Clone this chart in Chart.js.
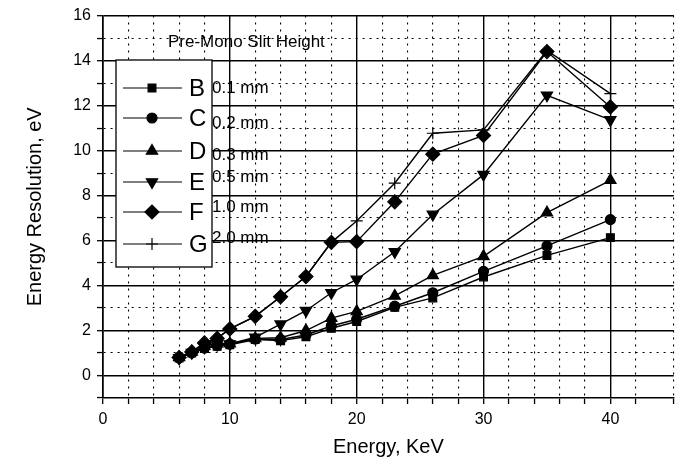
<!DOCTYPE html>
<html>
<head>
<meta charset="utf-8">
<script src="https://cdn.jsdelivr.net/npm/chart.js@4"></script>
<style>
  html, body { margin: 0; padding: 0; background: #fff; }
  #wrap { width: 682px; height: 465px; }
</style>
</head>
<body>
<div id="wrap"><canvas id="resChart" width="682" height="465"></canvas></div>
<script>
// energies (KeV)
let energy = [6, 7, 8, 9, 10, 12, 14, 16, 18, 20, 23, 26, 30, 35, 40];

// energy resolution (eV) per slit setting
let seriesB = [0.78, 1.0, 1.2, 1.3, 1.37, 1.6, 1.55, 1.72, 2.1, 2.4, 3.03, 3.45, 4.38, 5.34, 6.13];
let seriesC = [0.8, 1.02, 1.22, 1.33, 1.4, 1.62, 1.6, 1.8, 2.2, 2.5, 3.08, 3.68, 4.63, 5.76, 6.93];
let seriesD = [0.8, 1.05, 1.3, 1.42, 1.42, 1.65, 1.68, 2.0, 2.55, 2.85, 3.54, 4.45, 5.3, 7.24, 8.68];
let seriesE = [0.78, 1.02, 1.25, 1.38, 1.4, 1.7, 2.28, 2.88, 3.68, 4.27, 5.5, 7.16, 8.93, 12.46, 11.36];
let seriesF = [0.8, 1.05, 1.45, 1.65, 2.07, 2.63, 3.5, 4.4, 5.92, 5.95, 7.72, 9.84, 10.67, 14.4, 11.94];
let seriesG = [0.8, 1.05, 1.45, 1.65, 2.07, 2.63, 3.5, 4.4, 5.92, 6.87, 8.55, 10.77, 10.92, 14.45, 12.53];

let legendLetters = ["B", "C", "D", "E", "F", "G"];
let slitHeights = ["0.1 mm", "0.2 mm", "0.3 mm", "0.5 mm", "1.0 mm", "2.0 mm"];
let legendTitle = "Pre-Mono Slit Height";

let allSeries = [seriesB, seriesC, seriesD, seriesE, seriesF, seriesG];
let markers = [
  { pointStyle: "rect", rotation: 0, radius: 5.5 },
  { pointStyle: "circle", rotation: 0, radius: 5 },
  { pointStyle: "triangle", rotation: 0, radius: 6.5 },
  { pointStyle: "triangle", rotation: 180, radius: 6.5 },
  { pointStyle: "rectRot", rotation: 0, radius: 7 },
  { pointStyle: "cross", rotation: 0, radius: 6 }
];

const FONT = "'Liberation Sans', Arial, sans-serif";

let datasets = allSeries.map((vals, i) => ({
  label: legendLetters[i],
  data: vals.map((v, j) => ({ x: energy[j], y: v })),
  borderColor: "#000",
  backgroundColor: "#000",
  borderWidth: 1.4,
  pointStyle: markers[i].pointStyle,
  rotation: markers[i].rotation,
  pointRadius: markers[i].radius,
  pointBorderWidth: 1.2,
  pointBackgroundColor: "#000",
  pointBorderColor: "#000",
  tension: 0
}));

// draws the boxed key in the top-left of the plot
let keyPlugin = {
  id: "keyBox",
  afterDatasetsDraw(chart) {
    let ctx = chart.ctx;
    ctx.save();
    ctx.fillStyle = "#000";
    ctx.font = "17px " + FONT;
    ctx.textBaseline = "middle";
    ctx.fillText(legendTitle, 168, 42);

    ctx.fillStyle = "#fff";
    ctx.fillRect(116, 60, 96, 207);
    ctx.strokeStyle = "#000";
    ctx.lineWidth = 1.3;
    ctx.strokeRect(116, 60, 96, 207);

    let rowY = [88, 118, 151, 182, 212, 244];
    let mmY = [88, 123, 155, 177, 207, 238];
    legendLetters.forEach((letter, i) => {
      let y = rowY[i];
      ctx.strokeStyle = "#000";
      ctx.lineWidth = 1.2;
      ctx.beginPath();
      ctx.moveTo(123, y);
      ctx.lineTo(182, y);
      ctx.stroke();
      ctx.fillStyle = "#000";
      Chart.helpers.drawPoint(ctx, {
        pointStyle: markers[i].pointStyle,
        rotation: markers[i].rotation,
        radius: markers[i].radius,
        borderWidth: 1.2
      }, 152, y);
      ctx.fillStyle = "#000";
      ctx.font = "24px " + FONT;
      ctx.fillText(letter, 189, y + 1);
      ctx.font = "17px " + FONT;
      ctx.fillText(slitHeights[i], 212, mmY[i]);
    });
    ctx.restore();
  }
};

let chart = new Chart("resChart", {
  type: "line",
  data: { datasets: datasets },
  options: {
    responsive: false,
    animation: false,
    layout: { padding: { top: 9, right: 3, left: 0, bottom: 0 } },
    plugins: { legend: { display: false }, tooltip: { enabled: false } },
    scales: {
      x: {
        type: "linear",
        min: 0,
        max: 45,
        afterFit: (s) => { s.height = 67; },
        ticks: {
          stepSize: 2,
          autoSkip: false,
          maxRotation: 0,
          padding: 6,
          color: "#000",
          font: { family: FONT, size: 16 },
          callback: (v) => (v % 10 === 0 ? v : "")
        },
        grid: {
          color: "#000",
          lineWidth: (c) => (c.tick && c.tick.value % 10 === 0 ? 1.4 : 1.1),
          tickLength: 6,
          tickColor: "#000",
          tickBorderDash: [],
          tickWidth: 1.3
        },
        border: {
          color: "#000",
          width: 1.6,
          dash: (c) => (c.tick && c.tick.value % 10 === 0 ? [] : [2, 5])
        },
        title: {
          display: true,
          text: "Energy, KeV",
          color: "#000",
          font: { family: FONT, size: 20 },
          padding: { top: 0, bottom: 6 }
        }
      },
      y: {
        min: -1,
        max: 16,
        afterFit: (s) => { s.width = 103; },
        ticks: {
          stepSize: 1,
          autoSkip: false,
          padding: 6,
          color: "#000",
          font: { family: FONT, size: 16 },
          callback: (v) => (v % 2 === 0 ? v : "")
        },
        grid: {
          color: "#000",
          lineWidth: (c) => (c.tick && c.tick.value % 2 === 0 ? 1.4 : 1.1),
          tickLength: 6,
          tickColor: "#000",
          tickBorderDash: [],
          tickWidth: 1.3
        },
        border: {
          color: "#000",
          width: 1.6,
          dash: (c) => (c.tick && c.tick.value % 2 === 0 ? [] : [2, 5])
        },
        title: {
          display: true,
          text: "Energy Resolution, eV",
          color: "#000",
          font: { family: FONT, size: 20 },
          padding: { top: 23, bottom: 0 }
        }
      }
    }
  },
  plugins: [keyPlugin]
});
</script>
</body>
</html>
